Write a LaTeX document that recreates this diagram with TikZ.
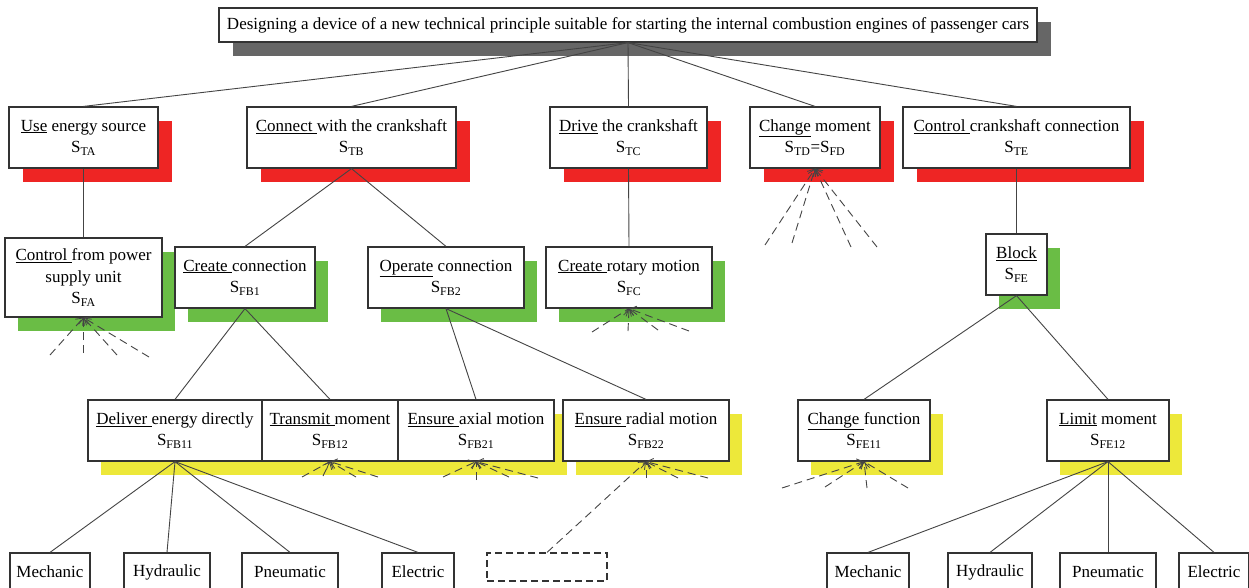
\documentclass[tikz,border=0pt]{standalone}
\usepackage{fontspec}
\setmainfont{Liberation Serif}
\usetikzlibrary{shadows,arrows.meta}
\definecolor{shred}{HTML}{EE2524}
\definecolor{shgreen}{HTML}{6ABD45}
\definecolor{shyellow}{HTML}{EDE83A}
\definecolor{shgrey}{HTML}{666666}
\definecolor{boxc}{HTML}{333333}
\definecolor{linec}{HTML}{444444}
\tikzset{
  box/.style={draw=boxc, line width=1.2pt, fill=white, align=center, inner sep=0pt,
    font=\fontsize{17}{21.5}\selectfont},
  greysh/.style={drop shadow={shadow xshift=14pt,shadow yshift=-14pt,fill=shgrey,opacity=1}},
  redsh/.style={drop shadow={shadow xshift=14pt,shadow yshift=-14pt,fill=shred,opacity=1}},
  greensh/.style={drop shadow={shadow xshift=13pt,shadow yshift=-14pt,fill=shgreen,opacity=1}},
  yellowsh/.style={drop shadow={shadow xshift=13pt,shadow yshift=-14pt,fill=shyellow,opacity=1}},
  conn/.style={draw=linec, line width=0.9pt},
  fan/.style={draw=linec, line width=0.9pt, dash pattern=on 8pt off 5pt,
    -{Straight Barb[length=6pt,width=10pt,line width=0.8pt]}},
}
\begin{document}
\begin{tikzpicture}[x=1pt,y=-1pt]
\fill[white] (0,0) rectangle (1249,588);
\useasboundingbox (0,0) rectangle (1249,588);
% top
\node[box,greysh,minimum width=818pt,minimum height=34pt] (top) at (628,25)
  {Designing a device of a new technical principle suitable for starting the internal combustion engines of passenger cars};
% level 1
\node[box,redsh,minimum width=149pt,minimum height=61pt] (A) at (83.5,137.5)
  {\underline{Use} energy source\\S\textsubscript{TA}};
\node[box,redsh,minimum width=209pt,minimum height=61pt] (B) at (351.5,137.5)
  {\underline{Connect\ }with the crankshaft\\S\textsubscript{TB}};
\node[box,redsh,minimum width=157pt,minimum height=61pt] (C) at (628.5,137.5)
  {\underline{Drive} the crankshaft\\S\textsubscript{TC}};
\node[box,redsh,minimum width=130pt,minimum height=61pt] (D) at (815,137.5)
  {\underline{Change} moment\\S\textsubscript{TD}=S\textsubscript{FD}};
\node[box,redsh,minimum width=227pt,minimum height=61pt] (E) at (1016.5,137.5)
  {\underline{Control\ }crankshaft connection\\S\textsubscript{TE}};
% level 2
\node[box,greensh,minimum width=157pt,minimum height=79pt] (FA) at (83.5,277.5)
  {\underline{Control\ }from power\\supply unit\\S\textsubscript{FA}};
\node[box,greensh,minimum width=140pt,minimum height=61pt] (FB1) at (245,277.5)
  {\underline{Create\ }connection\\S\textsubscript{FB1}};
\node[box,greensh,minimum width=156pt,minimum height=61pt] (FB2) at (446,277.5)
  {\underline{Operate} connection\\S\textsubscript{FB2}};
\node[box,greensh,minimum width=166pt,minimum height=61pt] (FC) at (629,277.5)
  {\underline{Create\ }rotary motion\\S\textsubscript{FC}};
\node[box,greensh,minimum width=61pt,minimum height=61pt] (FE) at (1016.5,264.5)
  {\underline{Block}\\S\textsubscript{FE}};
% level 3
\node[box,yellowsh,minimum width=174pt,minimum height=61pt] (FB11) at (175,430.5)
  {\underline{Deliver\ }energy directly\\S\textsubscript{FB11}};
\node[box,yellowsh,minimum width=136pt,minimum height=61pt] (FB12) at (330,430.5)
  {\underline{Transmit\ }moment\\S\textsubscript{FB12}};
\node[box,yellowsh,minimum width=156pt,minimum height=61pt] (FB21) at (476,430.5)
  {\underline{Ensure\ }axial motion\\S\textsubscript{FB21}};
\node[box,yellowsh,minimum width=166pt,minimum height=61pt] (FB22) at (646,430.5)
  {\underline{Ensure\ }radial motion\\S\textsubscript{FB22}};
\node[box,yellowsh,minimum width=132pt,minimum height=61pt] (FE11) at (864,430.5)
  {\underline{Change\ }function\\S\textsubscript{FE11}};
\node[box,yellowsh,minimum width=122pt,minimum height=61pt] (FE12) at (1108,430.5)
  {\underline{Limit} moment\\S\textsubscript{FE12}};
% level 4
\node[box,minimum width=80pt,minimum height=38pt] (M1) at (50,572) {Mechanic};
\node[box,minimum width=86pt,minimum height=38pt] (H1) at (167,572) {Hydraulic};
\node[box,minimum width=96pt,minimum height=38pt] (P1) at (290,572) {Pneumatic};
\node[box,minimum width=72pt,minimum height=38pt] (E1) at (418,572) {Electric};
\node[box,dashed,dash pattern=on 7pt off 4pt,minimum width=120pt,minimum height=28pt] (DB) at (547,567) {};
\node[box,minimum width=82pt,minimum height=38pt] (M2) at (868,572) {Mechanic};
\node[box,minimum width=84pt,minimum height=38pt] (H2) at (990,572) {Hydraulic};
\node[box,minimum width=96pt,minimum height=38pt] (P2) at (1108,572) {Pneumatic};
\node[box,minimum width=70pt,minimum height=38pt] (E2) at (1214,572) {Electric};
% connectors
\foreach \n in {A,B,C,D,E} \draw[conn] (top.south) -- (\n.north);
\draw[conn] (A.south) -- (FA.north);
\draw[conn] (B.south) -- (FB1.north);
\draw[conn] (B.south) -- (FB2.north);
\draw[conn] (C.south) -- (FC.north);
\draw[conn] (E.south) -- (FE.north);
\draw[conn] (FB1.south) -- (FB11.north);
\draw[conn] (FB1.south) -- (FB12.north);
\draw[conn] (FB2.south) -- (FB21.north);
\draw[conn] (FB2.south) -- (FB22.north);
\draw[conn] (FE.south) -- (FE11.north);
\draw[conn] (FE.south) -- (FE12.north);
\foreach \n in {M1,H1,P1,E1} \draw[conn] (FB11.south) -- (\n.north);
\foreach \n in {M2,H2,P2,E2} \draw[conn] (FE12.south) -- (\n.north);
% dashed fans
\coordinate (d1) at (765,245); \coordinate (d2) at (792,243);
\coordinate (d3) at (851,247); \coordinate (d4) at (877,247);
\coordinate (a1) at (50,355); \coordinate (a2) at (83.5,353);
\coordinate (a3) at (117,355); \coordinate (a4) at (149,357);
\coordinate (c1) at (592,332); \coordinate (c2) at (628,331);
\coordinate (c3) at (658,330); \coordinate (c4) at (689,331);
\coordinate (p1) at (302,477); \coordinate (p2) at (323,476);
\coordinate (p3) at (356,477); \coordinate (p4) at (378,477);
\coordinate (q1) at (443,477); \coordinate (q2) at (476,480);
\coordinate (q3) at (509,477); \coordinate (q4) at (538,478);
\coordinate (r2) at (646,478); \coordinate (r3) at (678,478);
\coordinate (r4) at (708,478);
\coordinate (s1) at (782,488); \coordinate (s2) at (825,487);
\coordinate (s3) at (867,488); \coordinate (s4) at (908,488);
\foreach \c in {d1,d2,d3,d4} \draw[fan] (\c) -- (D.south);
\foreach \c in {a1,a2,a3,a4} \draw[fan] (\c) -- (FA.south);
\foreach \c in {c1,c2,c3,c4} \draw[fan] (\c) -- (FC.south);
\foreach \c in {p1,p2,p3,p4} \draw[fan] (\c) -- (FB12.south);
\foreach \c in {q1,q2,q3,q4} \draw[fan] (\c) -- (FB21.south);
\foreach \c in {r2,r3,r4} \draw[fan] (\c) -- (FB22.south);
\draw[fan] (DB.north) -- (FB22.south);
\foreach \c in {s1,s2,s3,s4} \draw[fan] (\c) -- (FE11.south);
\end{tikzpicture}
\end{document}
